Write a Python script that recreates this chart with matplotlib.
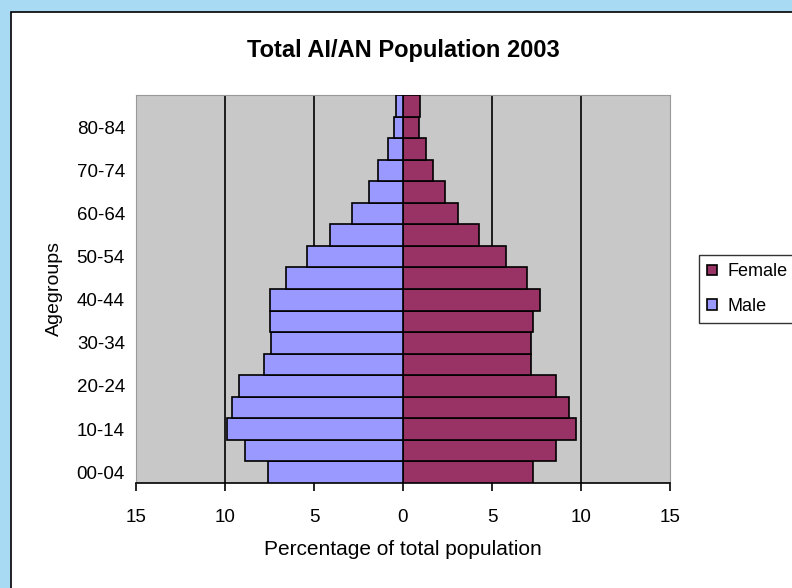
import matplotlib
matplotlib.use('Agg')
import matplotlib.pyplot as plt
import numpy as np
from matplotlib.patches import Rectangle

plt.rcParams['font.family'] = ['Liberation Sans', 'DejaVu Sans']

agegroups = ['00-04', '05-09', '10-14', '15-19', '20-24', '25-29', '30-34', '35-39', '40-44',
             '45-49', '50-54', '55-59', '60-64', '65-69', '70-74', '75-79', '80-84', '85+']
male = [7.6, 8.85, 9.9, 9.6, 9.2, 7.8, 7.4, 7.45, 7.45,
        6.55, 5.4, 4.1, 2.85, 1.9, 1.4, 0.87, 0.5, 0.37]
female = [7.3, 8.6, 9.7, 9.3, 8.6, 7.2, 7.2, 7.3, 7.7,
          6.95, 5.8, 4.25, 3.1, 2.35, 1.7, 1.27, 0.88, 0.93]
xticks = [-15, -10, -5, 0, 5, 10, 15]

fig = plt.figure(figsize=(7.92, 5.88), dpi=100)
fig.patch.set_facecolor('#a8daf4')
# white chart area with black border
fig.patches.append(Rectangle((11/792, -0.01), 1.0, 1.01 - 12/588, transform=fig.transFigure,
                             facecolor='white', edgecolor='black', linewidth=1.2, zorder=-5))

ax = fig.add_axes([136/792, 1 - 483/588, 534/792, 388/588])
ax.set_facecolor('#c8c8c8')
y = np.arange(len(agegroups))
ax.barh(y, female, height=1.0, color='#993366', edgecolor='black', linewidth=1.2, label='Female', zorder=3)
ax.barh(y, [-m for m in male], height=1.0, color='#9999ff', edgecolor='black', linewidth=1.2, label='Male', zorder=3)

ax.set_xlim(-15, 15)
ax.set_ylim(-0.5, len(agegroups) - 0.5)
ax.set_xticks(xticks)
ax.set_xticklabels([str(abs(t)) for t in xticks], fontsize=13.5)
for t in [-10, -5, 5, 10]:
    ax.axvline(t, color='black', linewidth=1.2, zorder=1)
ax.set_yticks(y[::2])
ax.set_yticklabels(agegroups[::2], fontsize=13.5)
ax.tick_params(axis='y', length=0, pad=8)
ax.tick_params(axis='x', direction='out', length=6, width=1.2, pad=13)

for s in ['top', 'right', 'left']:
    ax.spines[s].set_color('#999999')
ax.spines['bottom'].set_color('black')
ax.spines['bottom'].set_linewidth(1.2)

ax.set_xlabel('Percentage of total population', fontsize=15, labelpad=10)
ax.set_ylabel('Agegroups', fontsize=14, labelpad=10)
ax.set_title('Total AI/AN Population 2003', fontsize=17, fontweight='bold', pad=27)

leg = ax.legend(loc='center left', bbox_to_anchor=(1.054, 0.5), frameon=True, fancybox=False,
                fontsize=13, handlelength=0.55, handleheight=0.55, handletextpad=0.6,
                borderpad=0.45, borderaxespad=0, labelspacing=0.95)
leg.get_frame().set_edgecolor('black')
leg.get_frame().set_linewidth(1.0)

fig.savefig('out.png', dpi=100, facecolor=fig.get_facecolor())
